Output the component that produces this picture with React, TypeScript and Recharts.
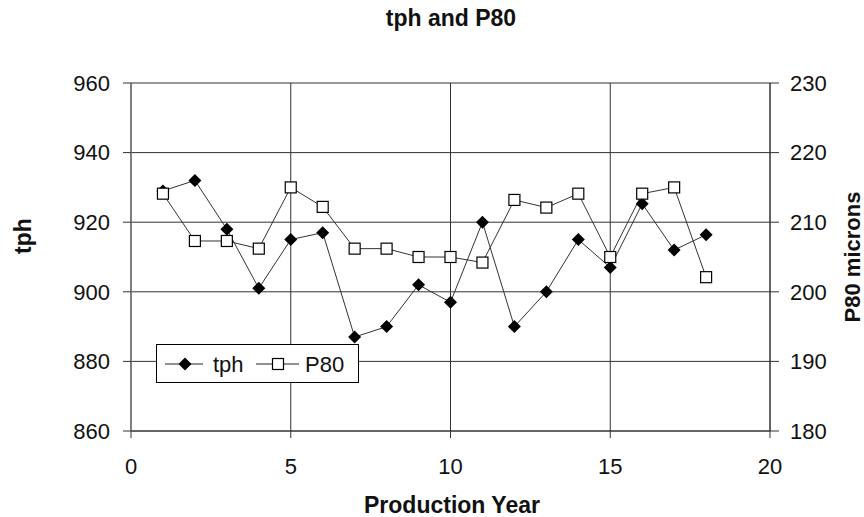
import { LineChart, Line, XAxis, YAxis, CartesianGrid, Legend } from 'recharts';

// Values
const years = [1, 2, 3, 4, 5, 6, 7, 8, 9, 10, 11, 12, 13, 14, 15, 16, 17, 18];
const tph = [929, 932, 918, 901, 915, 917, 887, 890, 902, 897, 920, 890, 900, 915, 907, 925.3, 912, 916.4];
const p80 = [214.1, 207.3, 207.3, 206.2, 215, 212.2, 206.2, 206.2, 205, 205, 204.2, 213.2, 212.1, 214.1, 205, 214.1, 215, 202.1];

const xTicks = [0, 5, 10, 15, 20];
const tphTicks = [860, 880, 900, 920, 940, 960];
const p80Ticks = [180, 190, 200, 210, 220, 230];

const data = years.map((year, i) => ({ year, tph: tph[i], p80: p80[i] }));

const FONT = '"Liberation Sans", Arial, sans-serif';
const tickStyle = { fontSize: 22, fill: '#111', fontFamily: FONT };

function Diamond(props: any) {
    const { cx, cy, index } = props;
    if (cx == null || cy == null) return null;
    const r = 6.5;
    return (
        <path
            key={`d-${index}`}
            d={`M${cx},${cy - r} L${cx + r},${cy} L${cx},${cy + r} L${cx - r},${cy} Z`}
            fill="#000"
        />
    );
}

function Square(props: any) {
    const { cx, cy, index } = props;
    if (cx == null || cy == null) return null;
    const r = 5.5;
    return (
        <rect
            key={`s-${index}`}
            x={cx - r}
            y={cy - r}
            width={r * 2}
            height={r * 2}
            fill="#fff"
            stroke="#000"
            strokeWidth={1.2}
        />
    );
}

function LegendBox() {
    return (
        <div style={{ width: 203, height: 39, border: '1px solid #000', background: '#fff', boxSizing: 'border-box' }}>
            <svg width={201} height={37} style={{ display: 'block' }}>
                <line x1={8} y1={19} x2={46} y2={19} stroke="#222" strokeWidth={1} />
                <path d="M28,12.5 L34.5,19 L28,25.5 L21.5,19 Z" fill="#000" />
                <text x={56} y={27} fontSize={22} fontFamily={FONT} fill="#111">tph</text>
                <line x1={99} y1={19} x2={142} y2={19} stroke="#222" strokeWidth={1} />
                <rect x={115.5} y={13.5} width={11} height={11} fill="#fff" stroke="#000" strokeWidth={1.2} />
                <text x={148} y={27} fontSize={22} fontFamily={FONT} fill="#111">P80</text>
            </svg>
        </div>
    );
}

export default function App() {
    return (
        <div style={{ position: 'absolute', left: 0, top: 0, width: 864, height: 517, background: '#fff', fontFamily: FONT }}>
            <LineChart width={864} height={517} data={data} margin={{ top: 83, right: 0, bottom: 0, left: 0 }}>
                <CartesianGrid yAxisId="left" stroke="#333" strokeWidth={1} />
                <XAxis
                    dataKey="year"
                    type="number"
                    domain={[0, 20]}
                    ticks={xTicks}
                    height={86}
                    tickSize={7}
                    tickMargin={20}
                    tick={tickStyle}
                    axisLine={{ stroke: '#333' }}
                    tickLine={{ stroke: '#333' }}
                />
                <YAxis
                    yAxisId="left"
                    domain={[860, 960]}
                    ticks={tphTicks}
                    width={131}
                    tickSize={8}
                    tickMargin={13}
                    tick={tickStyle}
                    axisLine={{ stroke: '#777', strokeWidth: 1.5 }}
                    tickLine={{ stroke: '#333' }}
                />
                <YAxis
                    yAxisId="right"
                    orientation="right"
                    domain={[180, 230]}
                    ticks={p80Ticks}
                    width={94}
                    tickSize={9}
                    tickMargin={11}
                    tick={{ ...tickStyle, textAnchor: 'start' }}
                    axisLine={{ stroke: '#333' }}
                    tickLine={{ stroke: '#333' }}
                />
                <Legend
                    layout="horizontal"
                    verticalAlign="middle"
                    align="center"
                    wrapperStyle={{ left: 156, top: 344, width: 203, height: 39 }}
                    content={() => <LegendBox />}
                />
                <Line
                    yAxisId="left"
                    dataKey="tph"
                    stroke="#333"
                    strokeWidth={1}
                    dot={Diamond}
                    activeDot={false}
                    isAnimationActive={false}
                />
                <Line
                    yAxisId="right"
                    dataKey="p80"
                    stroke="#333"
                    strokeWidth={1}
                    dot={Square}
                    activeDot={false}
                    isAnimationActive={false}
                />
            </LineChart>
            <svg width={864} height={517} style={{ position: 'absolute', left: 0, top: 0, pointerEvents: 'none' }}>
                <text x={451} y={26} textAnchor="middle" fontSize={23} fontWeight="bold" fontFamily={FONT} fill="#111">
                    tph and P80
                </text>
                <text
                    x={23}
                    y={236}
                    textAnchor="middle"
                    dominantBaseline="central"
                    transform="rotate(-90 23 236)"
                    fontSize={23}
                    fontWeight="bold"
                    fontFamily={FONT}
                    fill="#111"
                >
                    tph
                </text>
                <text
                    x={852}
                    y={257}
                    textAnchor="middle"
                    dominantBaseline="central"
                    transform="rotate(-90 852 257)"
                    fontSize={22}
                    fontWeight="bold"
                    fontFamily={FONT}
                    fill="#111"
                >
                    P80 microns
                </text>
                <text x={452} y={513} textAnchor="middle" fontSize={23} fontWeight="bold" fontFamily={FONT} fill="#111">
                    Production Year
                </text>
            </svg>
        </div>
    );
}
